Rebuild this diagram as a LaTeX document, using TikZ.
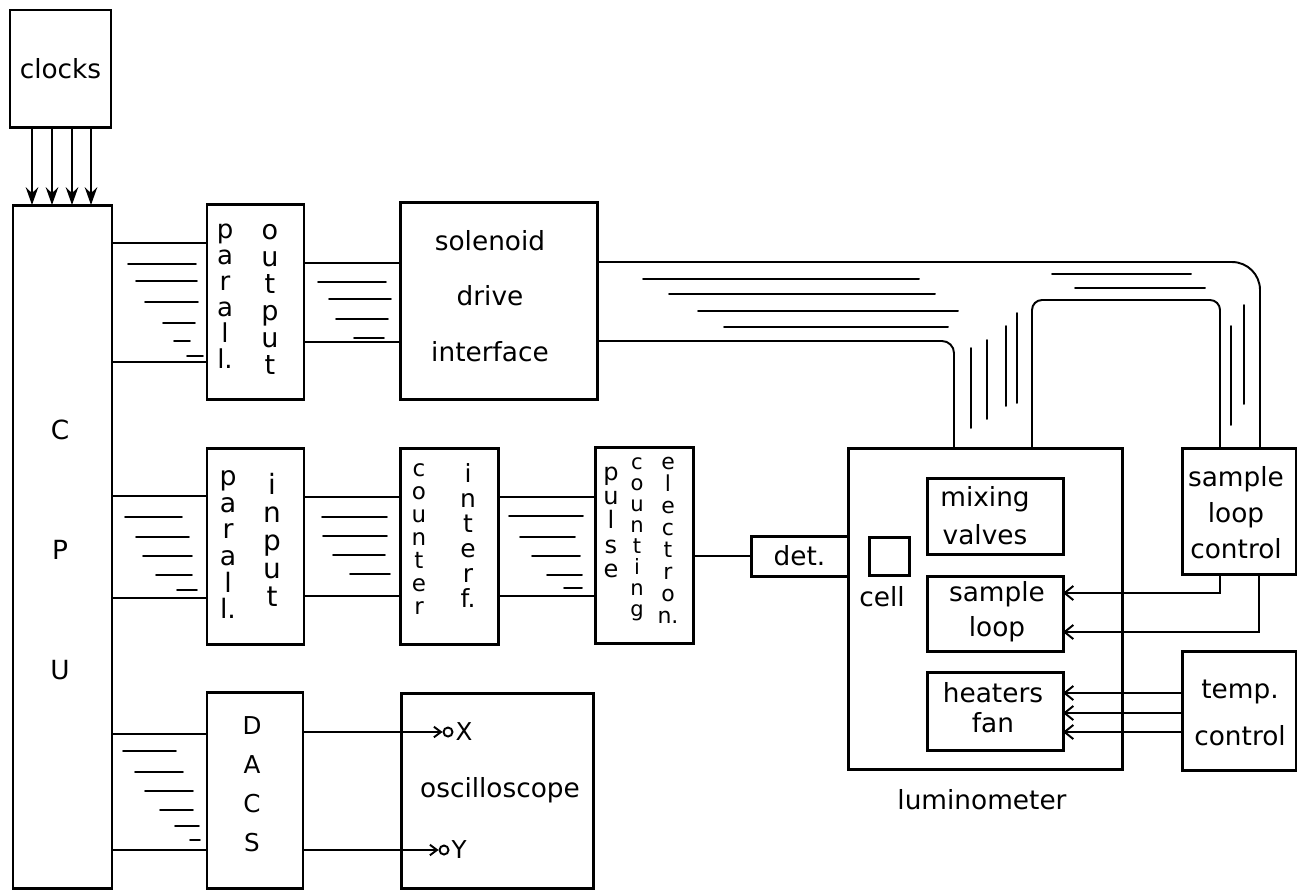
\documentclass[tikz,border=0pt]{standalone}
\usepackage{fontspec}
\setmainfont{DejaVu Sans}
\usetikzlibrary{arrows.meta}
\tikzset{
  blk/.style={draw, line width=1.7pt, inner sep=0pt, outer sep=0pt},
  sz/.style 2 args={minimum width=#1*0.02cm, minimum height=#2*0.02cm},
  bus/.style={line width=1.1pt},
  filo/.style={line width=1.1pt, line cap=round},
  vtxt/.style={anchor=north, align=center, inner sep=0pt, font=\fontsize{#1}{#1}\selectfont},
  mtxt/.style={align=center, inner sep=0pt, font=\fontsize{15}{#1}\selectfont},
  barb/.style={-{Straight Barb[length=5pt,width=8pt]}},
}
\begin{document}
\begin{tikzpicture}[x=0.02cm, y=-0.02cm, font=\fontsize{15}{18}\selectfont]
  \useasboundingbox (0,0) rectangle (1297,890);

  % Blocchi
  \node[blk, sz={101}{117}] (clocks) at (60.5,68.5) {clocks};
  \node[blk, sz={99}{683}] (cpu) at (62.5,546.5) {};
  \node[blk, sz={97}{195}] (pout) at (255.5,301.5) {};
  \node[blk, sz={197}{197}] (sol) at (498.5,300.5) {};
  \node[blk, sz={97}{196}] (pin) at (255.5,546) {};
  \node[blk, sz={98}{196}] (cnt) at (449,546) {};
  \node[blk, sz={98}{196}] (pls) at (644,545) {};
  \node[blk, sz={97}{40}] (det) at (799.5,556) {det.};
  \node[blk, sz={274}{321}] (lum) at (985,608.5) {};
  \node[blk, sz={40}{38}] (cell) at (889,556) {};
  \node[blk, sz={136}{76}] (mix) at (995,516) {};
  \node[blk, sz={136}{75}] (sloop) at (995,613.5) {};
  \node[blk, sz={136}{78}] (heat) at (995,711) {};
  \node[blk, sz={114}{126}] (slc) at (1239,511) {};
  \node[blk, sz={114}{119}] (tmp) at (1239,710.5) {};
  \node[blk, sz={96}{196}] (dacs) at (255,790) {};
  \node[blk, sz={192}{195}] (osc) at (497,790.5) {};

  % Scritte
  \node[mtxt=68.3] (cputxt) at (60,550) {C\\P\\U};
  \node[vtxt=14.8] (pout1) at (225,224) {p\\a\\r\\a\\l\\l.};
  \node[vtxt=15.4] (pout2) at (270,224) {o\\u\\t\\p\\u\\t};
  \node[mtxt=31.7] (soltxt) at (490,296) {solenoid\\drive\\interface};
  \node[vtxt=15.2] (pin1) at (228,470) {p\\a\\r\\a\\l\\l.};
  \node[vtxt=15.9] (pin2) at (272,473) {i\\n\\p\\u\\t};
  \node[vtxt=13.1] (cnt1) at (419,463) {c\\o\\u\\n\\t\\e\\r};
  \node[vtxt=14.2] (cnt2) at (468,463) {i\\n\\t\\e\\r\\f.};
  \node[vtxt=13.7] (pls1) at (611,467) {p\\u\\l\\s\\e};
  \node[vtxt=12.0] (pls2) at (637,457) {c\\o\\u\\n\\t\\i\\n\\g};
  \node[vtxt=12.5] (pls3) at (668,457) {e\\l\\e\\c\\t\\r\\o\\n.};
  \node[inner sep=0pt] (celltxt) at (882,597) {cell};
  \node[mtxt=21.6] (mixtxt) at (985,516) {mixing\\valves};
  \node[mtxt=20] (slooptxt) at (997,612) {sample\\loop};
  \node[mtxt=17] (heattxt) at (993,708) {heaters\\fan};
  \node[mtxt=20.4] (slctxt) at (1236,513) {sample\\loop\\control};
  \node[mtxt=26.6] (tmptxt) at (1240,713) {temp.\\control};
  \node[inner sep=0pt] (lumtxt) at (982,800) {luminometer};
  \node[mtxt=22.2, font=\fontsize{14}{22.2}\selectfont] (dacstxt) at (252,784) {D\\A\\C\\S};
  \node[inner sep=0pt] (osctxt) at (500,790) {oscilloscope};

  % Clock verso CPU
  \foreach \x in {32,52,72,91}
    \draw[line width=1.7pt, -{Stealth[length=10pt,width=7pt]}] (\x,0 |- clocks.south) -- (\x,0 |- cpu.north);

  % Bus paralleli
  \foreach \y in {243,362} \draw[bus] (cpu.east |- 0,\y) -- (pout.west |- 0,\y);
  \foreach \y in {263,342} \draw[bus] (pout.east |- 0,\y) -- (sol.west |- 0,\y);
  \foreach \y in {496,598} \draw[bus] (cpu.east |- 0,\y) -- (pin.west |- 0,\y);
  \foreach \y in {497,596} \draw[bus] (pin.east |- 0,\y) -- (cnt.west |- 0,\y);
  \foreach \y in {497,596} \draw[bus] (cnt.east |- 0,\y) -- (pls.west |- 0,\y);
  \foreach \y in {734,850} \draw[bus] (cpu.east |- 0,\y) -- (dacs.west |- 0,\y);

  % Bus verso luminometro e sample loop control
  \draw[bus, rounded corners=0.56cm] (sol.east |- 0,262) -- (1260,262) -- (1260,0 |- slc.north);
  \draw[bus, rounded corners=0.24cm] (sol.east |- 0,341) -- (954,341) -- (954,0 |- lum.north);
  \draw[bus, rounded corners=0.2cm] (1032,0 |- lum.north) -- (1032,300) -- (1220,300) -- (1220,0 |- slc.north);

  % Fili dentro i bus
  \foreach \y/\a/\b in {264/128/196, 281/136/197, 302/145/198, 323/163/195, 341/174/190, 356/187/203,
                        282/318/386, 299/329/391, 319/336/388, 338/354/384,
                        279/643/919, 294/669/935, 311/698/958, 327/724/948, 274/1052/1191, 288/1075/1205,
                        517/125/182, 537/136/189, 556/143/192, 575/156/192, 590/177/197,
                        517/322/387, 536/323/387, 555/333/385, 574/350/390,
                        516/509/583, 537/520/575, 556/532/580, 575/547/582, 588/564/582,
                        751/123/176, 772/135/183, 791/145/193, 810/160/193, 826/175/199, 840/190/200}
    \draw[filo] (\a,\y) -- (\b,\y);
  \foreach \x/\a/\b in {971/348/428, 987/340/419, 1006/326/406, 1017/313/403, 1231/326/425, 1244/305/404}
    \draw[filo] (\x,\a) -- (\x,\b);

  % Collegamenti singoli
  \draw[bus] (pls.east |- det) -- (det.west);
  \draw[bus, barb] (1220,0 |- slc.south) |- (sloop.east |- 0,593);
  \draw[bus, barb] (1259,0 |- slc.south) |- (sloop.east |- 0,632);
  \foreach \y in {693,713,732}
    \draw[bus, barb] (tmp.west |- 0,\y) -- (heat.east |- 0,\y);

  % Ingressi oscilloscopio
  \node[circle, draw, line width=1.1pt, minimum size=0.18cm, inner sep=0pt] (xo) at (448,732) {};
  \node[anchor=west, inner sep=1pt, font=\fontsize{14}{16}\selectfont] (xl) at (xo.east) {X};
  \node[circle, draw, line width=1.1pt, minimum size=0.18cm, inner sep=0pt] (yo) at (444,850) {};
  \node[anchor=west, inner sep=1pt, font=\fontsize{14}{16}\selectfont] (yl) at (yo.east) {Y};
  \draw[bus, -{Straight Barb[length=4pt,width=6pt]}] (dacs.east |- xo) -- (xo.west);
  \draw[bus, -{Straight Barb[length=4pt,width=6pt]}] (dacs.east |- yo) -- (yo.west);
\end{tikzpicture}
\end{document}
